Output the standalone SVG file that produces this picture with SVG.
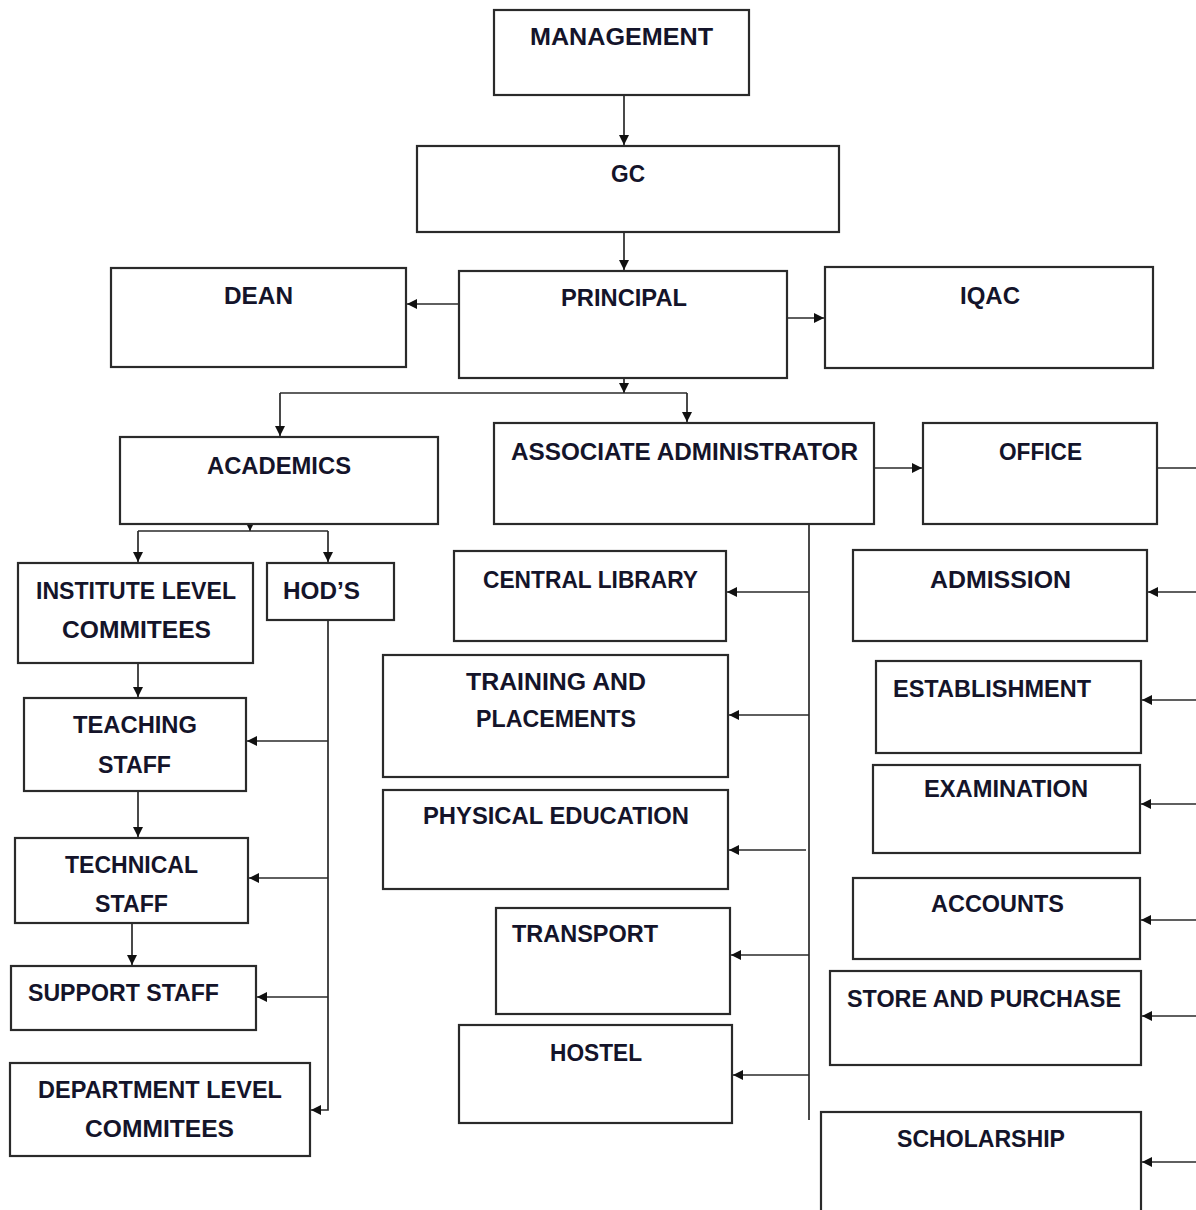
<svg xmlns="http://www.w3.org/2000/svg" width="1196" height="1210" viewBox="0 0 1196 1210">
<style>
.box{fill:#fff;stroke:#2a2a2a;stroke-width:2.2}
.t{font-family:"Liberation Sans",Arial,sans-serif;font-weight:bold;font-size:23px;fill:#14142a}
.c{fill:none;stroke:#2a2a2a;stroke-width:1.7}
</style>
<defs>
<marker id="ah" markerUnits="userSpaceOnUse" markerWidth="11" markerHeight="11" refX="10" refY="5.5" orient="auto">
<path d="M0,0.5 L10,5.5 L0,10.5 z" fill="#111"/>
</marker>
</defs>
<rect width="1196" height="1210" fill="#fff"/>
<g id="connectors">
<path class="c" d="M624,90 V145" marker-end="url(#ah)"/>
<path class="c" d="M624,215 V270" marker-end="url(#ah)"/>
<path class="c" d="M459,304 H407" marker-end="url(#ah)"/>
<path class="c" d="M787,318 H824" marker-end="url(#ah)"/>
<path class="c" d="M624,366 V393" marker-end="url(#ah)"/>
<path class="c" d="M280,393 H687"/>
<path class="c" d="M280,393 V436" marker-end="url(#ah)"/>
<path class="c" d="M687,393 V422" marker-end="url(#ah)"/>
<path class="c" d="M874,468 H922" marker-end="url(#ah)"/>
<path class="c" d="M1157,468 H1200 V1170"/>
<path class="c" d="M1200,592 H1148" marker-end="url(#ah)"/>
<path class="c" d="M1200,700 H1142" marker-end="url(#ah)"/>
<path class="c" d="M1200,804 H1141" marker-end="url(#ah)"/>
<path class="c" d="M1200,920 H1141" marker-end="url(#ah)"/>
<path class="c" d="M1200,1016 H1142" marker-end="url(#ah)"/>
<path class="c" d="M1200,1162 H1142" marker-end="url(#ah)"/>
<path class="c" d="M250,517 V531" marker-end="url(#ah)"/>
<path class="c" d="M138,531 H328"/>
<path class="c" d="M138,531 V562" marker-end="url(#ah)"/>
<path class="c" d="M328,531 V562" marker-end="url(#ah)"/>
<path class="c" d="M138,653 V697" marker-end="url(#ah)"/>
<path class="c" d="M138,785 V837" marker-end="url(#ah)"/>
<path class="c" d="M132,923 V965" marker-end="url(#ah)"/>
<path class="c" d="M328,620 V1110 H311" marker-end="url(#ah)"/>
<path class="c" d="M328,741 H247" marker-end="url(#ah)"/>
<path class="c" d="M328,878 H249" marker-end="url(#ah)"/>
<path class="c" d="M328,997 H257" marker-end="url(#ah)"/>
<path class="c" d="M809,516 V1120"/>
<path class="c" d="M809,592 H727" marker-end="url(#ah)"/>
<path class="c" d="M809,715 H729" marker-end="url(#ah)"/>
<path class="c" d="M806,850 H729" marker-end="url(#ah)"/>
<path class="c" d="M809,955 H731" marker-end="url(#ah)"/>
<path class="c" d="M809,1075 H733" marker-end="url(#ah)"/>
</g>
<g id="management"><rect class="box" x="494" y="10" width="255" height="85"/><text class="t" x="530" y="45" textLength="183" lengthAdjust="spacingAndGlyphs">MANAGEMENT</text></g>
<g id="gc"><rect class="box" x="417" y="146" width="422" height="86"/><text class="t" x="611" y="182" textLength="34" lengthAdjust="spacingAndGlyphs">GC</text></g>
<g id="principal"><rect class="box" x="459" y="271" width="328" height="107"/><text class="t" x="561" y="306" textLength="126" lengthAdjust="spacingAndGlyphs">PRINCIPAL</text></g>
<g id="dean"><rect class="box" x="111" y="268" width="295" height="99"/><text class="t" x="224" y="304" textLength="69" lengthAdjust="spacingAndGlyphs">DEAN</text></g>
<g id="iqac"><rect class="box" x="825" y="267" width="328" height="101"/><text class="t" x="960" y="304" textLength="60" lengthAdjust="spacingAndGlyphs">IQAC</text></g>
<g id="academics"><rect class="box" x="120" y="437" width="318" height="87"/><text class="t" x="207" y="474" textLength="144" lengthAdjust="spacingAndGlyphs">ACADEMICS</text></g>
<g id="associate-administrator"><rect class="box" x="494" y="423" width="380" height="101"/><text class="t" x="511" y="460" textLength="347" lengthAdjust="spacingAndGlyphs">ASSOCIATE ADMINISTRATOR</text></g>
<g id="office"><rect class="box" x="923" y="423" width="234" height="101"/><text class="t" x="999" y="460" textLength="83" lengthAdjust="spacingAndGlyphs">OFFICE</text></g>
<g id="institute-level-commitees"><rect class="box" x="18" y="563" width="235" height="100"/><text class="t" x="36" y="599" textLength="200" lengthAdjust="spacingAndGlyphs">INSTITUTE LEVEL</text><text class="t" x="62" y="638" textLength="149" lengthAdjust="spacingAndGlyphs">COMMITEES</text></g>
<g id="hods"><rect class="box" x="267" y="563" width="127" height="57"/><text class="t" x="283" y="599" textLength="77" lengthAdjust="spacingAndGlyphs">HOD’S</text></g>
<g id="teaching-staff"><rect class="box" x="24" y="698" width="222" height="93"/><text class="t" x="73" y="733" textLength="124" lengthAdjust="spacingAndGlyphs">TEACHING</text><text class="t" x="98" y="773" textLength="73" lengthAdjust="spacingAndGlyphs">STAFF</text></g>
<g id="technical-staff"><rect class="box" x="15" y="838" width="233" height="85"/><text class="t" x="65" y="873" textLength="133" lengthAdjust="spacingAndGlyphs">TECHNICAL</text><text class="t" x="95" y="912" textLength="73" lengthAdjust="spacingAndGlyphs">STAFF</text></g>
<g id="support-staff"><rect class="box" x="11" y="966" width="245" height="64"/><text class="t" x="28" y="1001" textLength="191" lengthAdjust="spacingAndGlyphs">SUPPORT STAFF</text></g>
<g id="department-level-commitees"><rect class="box" x="10" y="1063" width="300" height="93"/><text class="t" x="38" y="1098" textLength="244" lengthAdjust="spacingAndGlyphs">DEPARTMENT LEVEL</text><text class="t" x="85" y="1137" textLength="149" lengthAdjust="spacingAndGlyphs">COMMITEES</text></g>
<g id="central-library"><rect class="box" x="454" y="551" width="272" height="90"/><text class="t" x="483" y="588" textLength="215" lengthAdjust="spacingAndGlyphs">CENTRAL LIBRARY</text></g>
<g id="training-and-placements"><rect class="box" x="383" y="655" width="345" height="122"/><text class="t" x="466" y="690" textLength="180" lengthAdjust="spacingAndGlyphs">TRAINING AND</text><text class="t" x="476" y="727" textLength="160" lengthAdjust="spacingAndGlyphs">PLACEMENTS</text></g>
<g id="physical-education"><rect class="box" x="383" y="790" width="345" height="99"/><text class="t" x="423" y="824" textLength="266" lengthAdjust="spacingAndGlyphs">PHYSICAL EDUCATION</text></g>
<g id="transport"><rect class="box" x="496" y="908" width="234" height="106"/><text class="t" x="512" y="942" textLength="146" lengthAdjust="spacingAndGlyphs">TRANSPORT</text></g>
<g id="hostel"><rect class="box" x="459" y="1025" width="273" height="98"/><text class="t" x="550" y="1061" textLength="92" lengthAdjust="spacingAndGlyphs">HOSTEL</text></g>
<g id="admission"><rect class="box" x="853" y="550" width="294" height="91"/><text class="t" x="930" y="588" textLength="141" lengthAdjust="spacingAndGlyphs">ADMISSION</text></g>
<g id="establishment"><rect class="box" x="876" y="661" width="265" height="92"/><text class="t" x="893" y="697" textLength="198" lengthAdjust="spacingAndGlyphs">ESTABLISHMENT</text></g>
<g id="examination"><rect class="box" x="873" y="765" width="267" height="88"/><text class="t" x="924" y="797" textLength="164" lengthAdjust="spacingAndGlyphs">EXAMINATION</text></g>
<g id="accounts"><rect class="box" x="853" y="878" width="287" height="81"/><text class="t" x="931" y="912" textLength="133" lengthAdjust="spacingAndGlyphs">ACCOUNTS</text></g>
<g id="store-and-purchase"><rect class="box" x="830" y="971" width="311" height="94"/><text class="t" x="847" y="1007" textLength="274" lengthAdjust="spacingAndGlyphs">STORE AND PURCHASE</text></g>
<g id="scholarship"><rect class="box" x="821" y="1112" width="320" height="110"/><text class="t" x="897" y="1147" textLength="168" lengthAdjust="spacingAndGlyphs">SCHOLARSHIP</text></g>
</svg>
